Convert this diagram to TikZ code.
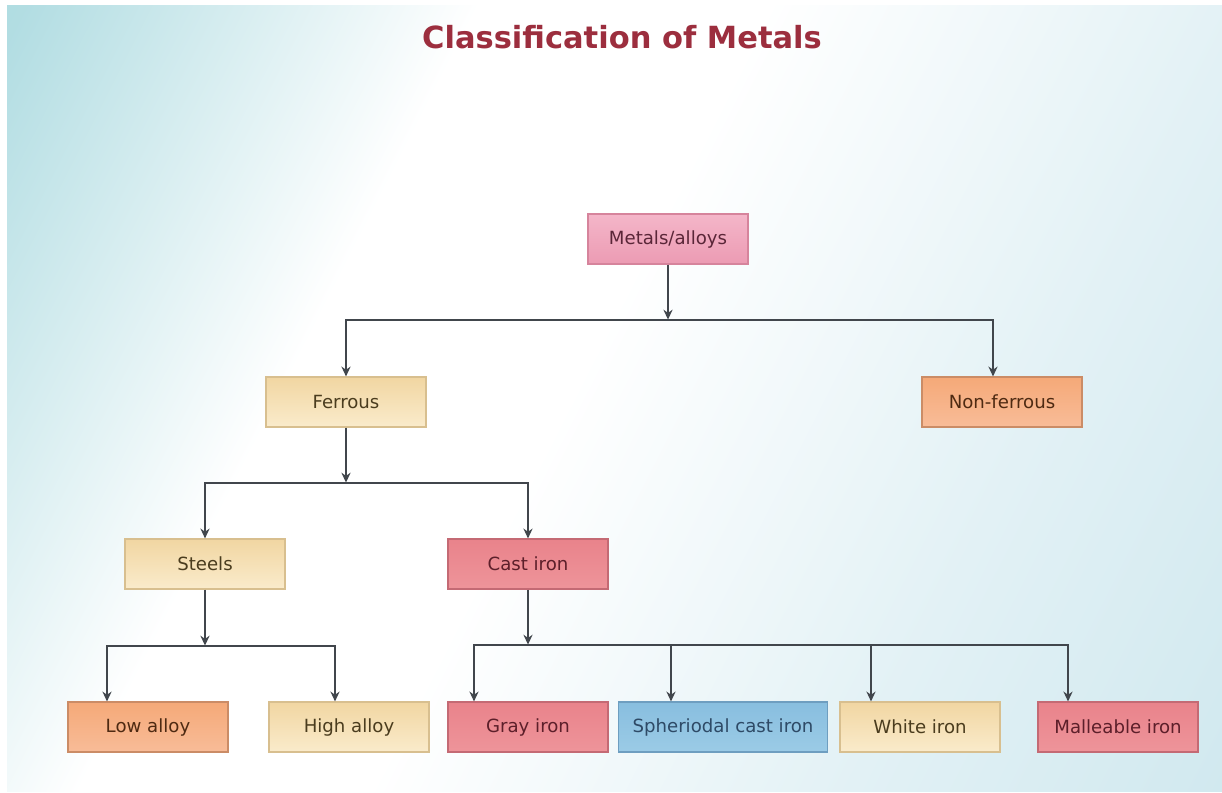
\documentclass[tikz,border=0pt]{standalone}
\usepackage{fontspec}
\setmainfont{DejaVu Sans}
\usetikzlibrary{calc,arrows.meta}

\definecolor{bgteal}{HTML}{A9D9DF}
\definecolor{bgblue}{HTML}{BFE0E9}
\definecolor{titlered}{HTML}{9C2E3E}
\definecolor{linegray}{HTML}{41464C}
\definecolor{pinktop}{HTML}{F4B6C9}\definecolor{pinkbot}{HTML}{EC9BB3}\definecolor{pinkline}{HTML}{D6849C}\definecolor{pinktext}{HTML}{5A2638}
\definecolor{beigetop}{HTML}{F1D6A2}\definecolor{beigebot}{HTML}{FAEBCB}\definecolor{beigeline}{HTML}{D8BF8F}\definecolor{beigetext}{HTML}{4A3C1E}
\definecolor{orangetop}{HTML}{F5A978}\definecolor{orangebot}{HTML}{F8BC98}\definecolor{orangeline}{HTML}{CB8C66}\definecolor{orangetext}{HTML}{4E2A12}
\definecolor{redtop}{HTML}{E9838B}\definecolor{redbot}{HTML}{EE949A}\definecolor{redline}{HTML}{C46A74}\definecolor{redtext}{HTML}{5C1F2A}
\definecolor{bluetop}{HTML}{88BEDF}\definecolor{bluebot}{HTML}{9BCBE6}\definecolor{blueline}{HTML}{6E9EC0}\definecolor{bluetext}{HTML}{2E4A66}
\pgfdeclarehorizontalshading{bgshade}{100bp}{color(0bp)=(bgteal); color(17bp)=(bgteal!90!white); color(36bp)=(white); color(48bp)=(white); color(68bp)=(bgblue!45!white); color(100bp)=(bgblue)}

\tikzset{
  box/.style={draw, line width=0.8pt, minimum width=4cm, minimum height=1.25cm,
    inner sep=0pt, font=\fontsize{12.9}{15}\selectfont},
  pinkbox/.style={top color=pinktop, bottom color=pinkbot, draw=pinkline, text=pinktext},
  beigebox/.style={top color=beigetop, bottom color=beigebot, draw=beigeline, text=beigetext},
  orangebox/.style={top color=orangetop, bottom color=orangebot, draw=orangeline, text=orangetext},
  redbox/.style={top color=redtop, bottom color=redbot, draw=redline, text=redtext},
  bluebox/.style={top color=bluetop, bottom color=bluebot, draw=blueline, text=bluetext},
  conn/.style={draw=linegray, line width=1.5pt},
  heading/.style={text=titlered, font=\fontsize{21.7}{26}\selectfont\bfseries}
}

\begin{document}
\begin{tikzpicture}[>={Stealth[length=7pt,width=6.5pt]}, x=0.025cm, y=-0.025cm]
                % background
                \fill[white] (0,0) rectangle (1222,793);
                \shade[shading=bgshade, shading angle=-27] (7,6) rectangle (1222,791);
                \useasboundingbox (0,0) rectangle (1222,793);
                % boxes
                \node[heading] (title) at (622,37) {Classification of Metals};
                \node[box, pinkbox] (metals) at (668,239) {Metals/alloys};
                \node[box, beigebox] (ferrous) at (346,402) {Ferrous};
                \node[box, orangebox] (nonferrous) at (1002,402) {Non-ferrous};
                \node[box, beigebox] (steels) at (205,564) {Steels};
                \node[box, redbox] (castiron) at (528,564) {Cast iron};
                \node[box, orangebox] (lowalloy) at (148,727) {Low alloy};
                \node[box, beigebox] (highalloy) at (349,727) {High alloy};
                \node[box, redbox] (grayiron) at (528,727) {Gray iron};
                \node[box, bluebox, minimum width=5.225cm] (spheroidal) at (723,727) {Spheriodal cast iron};
                \node[box, beigebox] (whiteiron) at (920,727) {White iron};
                \node[box, redbox] (malleable) at (1118,727) {Malleable iron};
                % junctions
                \coordinate (j1) at ($(metals.south)+(0,55)$);
                \coordinate (j2) at ($(ferrous.south)+(0,55)$);
                \coordinate (j3) at ($(steels.south)+(0,56)$);
                \coordinate (j4) at ($(castiron.south)+(0,55)$);
                % connectors
                \draw[conn,->] (metals.south) -- (j1);
                \draw[conn,->] (j1) -| (ferrous.north);
                \draw[conn,->] (j1) -| ($(nonferrous.north)+(-9,0)$);
                \draw[conn,->] (ferrous.south) -- (j2);
                \draw[conn,->] (j2) -| (steels.north);
                \draw[conn,->] (j2) -| (castiron.north);
                \draw[conn,->] (steels.south) -- (j3);
                \draw[conn,->] (j3) -| ($(lowalloy.north)+(-41,0)$);
                \draw[conn,->] (j3) -| ($(highalloy.north)+(-14,0)$);
                \draw[conn,->] (castiron.south) -- (j4);
                \draw[conn,->] (j4) -| ($(grayiron.north)+(-54,0)$);
                \draw[conn,->] (j4) -| ($(spheroidal.north)+(-52,0)$);
                \draw[conn,->] (j4) -| ($(whiteiron.north)+(-49,0)$);
                \draw[conn,->] (j4) -| ($(malleable.north)+(-50,0)$);
\end{tikzpicture}
\end{document}
